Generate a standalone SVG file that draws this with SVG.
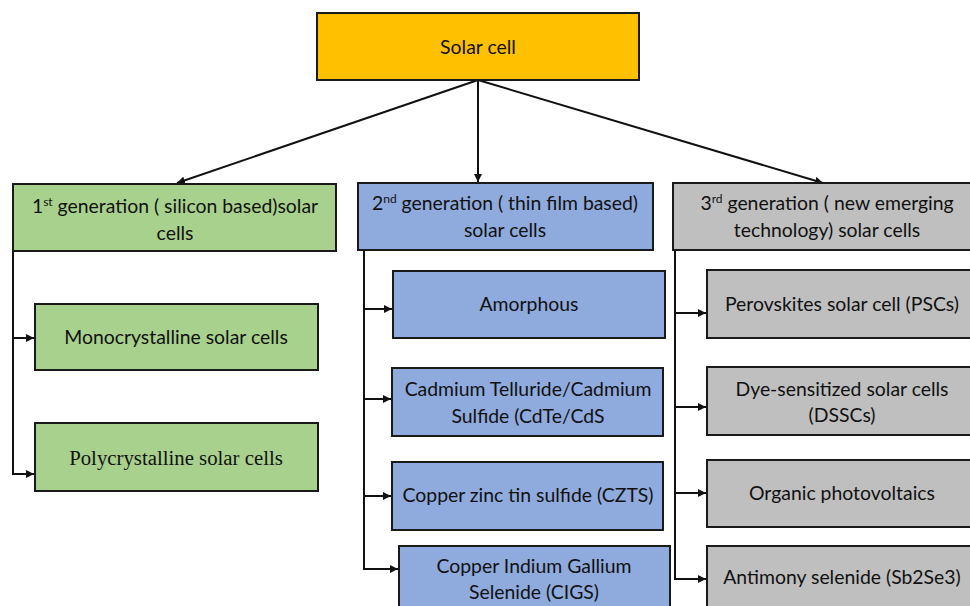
<svg xmlns="http://www.w3.org/2000/svg" width="970" height="606" viewBox="0 0 970 606">
<style>
.box{stroke:#1a1a1a;stroke-width:2}
.o{fill:#FFC000}.g{fill:#A9D18E}.b{fill:#8FAADC}.y{fill:#BFBFBF}
text{font-family:Lato,"Noto Sans",sans-serif;font-size:19.4px;fill:#111;text-anchor:middle}
.serif{font-family:"Liberation Serif",serif;font-size:20.8px}
.c{stroke:#111;stroke-width:2;fill:none}
</style>
<defs>
<marker id="ah" viewBox="0 0 10 10" refX="10" refY="5" markerWidth="4" markerHeight="4" orient="auto" markerUnits="strokeWidth">
<path d="M0,0 L10,5 L0,10 z" fill="#111"/>
</marker>
</defs>
<rect width="970" height="606" fill="#fff"/>
<g id="connectors">
<line class="c" x1="478" y1="80" x2="177" y2="183" marker-end="url(#ah)"/>
<line class="c" x1="478" y1="80" x2="478" y2="182" marker-end="url(#ah)"/>
<line class="c" x1="478" y1="80" x2="823" y2="183" marker-end="url(#ah)"/>
<path class="c" d="M13,251 V474 H34" marker-end="url(#ah)"/>
<line class="c" x1="13" y1="338" x2="34" y2="338" marker-end="url(#ah)"/>
<path class="c" d="M364,250 V569 H398" marker-end="url(#ah)"/>
<line class="c" x1="364" y1="309" x2="392" y2="309" marker-end="url(#ah)"/>
<line class="c" x1="364" y1="399" x2="391" y2="399" marker-end="url(#ah)"/>
<line class="c" x1="364" y1="496" x2="391" y2="496" marker-end="url(#ah)"/>
<path class="c" d="M675,250 V579 H706" marker-end="url(#ah)"/>
<line class="c" x1="675" y1="313" x2="706" y2="313" marker-end="url(#ah)"/>
<line class="c" x1="675" y1="407" x2="706" y2="407" marker-end="url(#ah)"/>
<line class="c" x1="675" y1="493" x2="706" y2="493" marker-end="url(#ah)"/>
</g>
<g id="solar-cell"><rect class="box o" x="317" y="13" width="322" height="67"/><text x="478" y="54">Solar cell</text></g>
<g id="gen1"><rect class="box g" x="13" y="184" width="323" height="67"/>
<text x="175" y="213">1<tspan font-size="12" dy="-7">st</tspan><tspan dy="7"> generation ( silicon based)solar</tspan></text>
<text x="175" y="240">cells</text></g>
<g id="mono"><rect class="box g" x="35" y="304" width="283" height="66"/><text x="176" y="344">Monocrystalline solar cells</text></g>
<g id="poly"><rect class="box g" x="35" y="423" width="283" height="68"/><text class="serif" x="176" y="465">Polycrystalline solar cells</text></g>
<g id="gen2"><rect class="box b" x="358" y="183" width="295" height="67"/>
<text x="505" y="210">2<tspan font-size="12" dy="-7">nd</tspan><tspan dy="7"> generation ( thin film based)</tspan></text>
<text x="505" y="237">solar cells</text></g>
<g id="amorphous"><rect class="box b" x="393" y="271" width="272" height="67"/><text x="529" y="311">Amorphous</text></g>
<g id="cdte"><rect class="box b" x="392" y="368" width="271" height="68"/><text x="528" y="396">Cadmium Telluride/Cadmium</text><text x="528" y="423">Sulfide (CdTe/CdS</text></g>
<g id="czts"><rect class="box b" x="392" y="462" width="271" height="68"/><text x="528" y="502">Copper zinc tin sulfide (CZTS)</text></g>
<g id="cigs"><rect class="box b" x="399" y="546" width="271" height="70"/><text x="534" y="573">Copper Indium Gallium</text><text x="534" y="599">Selenide (CIGS)</text></g>
<g id="gen3"><rect class="box y" x="673" y="183" width="310" height="67"/>
<text x="827" y="210">3<tspan font-size="12" dy="-7">rd</tspan><tspan dy="7"> generation ( new emerging</tspan></text>
<text x="827" y="237">technology) solar cells</text></g>
<g id="psc"><rect class="box y" x="707" y="270" width="280" height="68"/><text x="842" y="311">Perovskites solar cell (PSCs)</text></g>
<g id="dssc"><rect class="box y" x="707" y="367" width="280" height="68"/><text x="842" y="396">Dye-sensitized solar cells</text><text x="842" y="422">(DSSCs)</text></g>
<g id="opv"><rect class="box y" x="707" y="460" width="280" height="67"/><text x="842" y="500">Organic photovoltaics</text></g>
<g id="sb2se3"><rect class="box y" x="707" y="546" width="280" height="70"/><text x="842" y="584">Antimony selenide (Sb2Se3)</text></g>
</svg>
